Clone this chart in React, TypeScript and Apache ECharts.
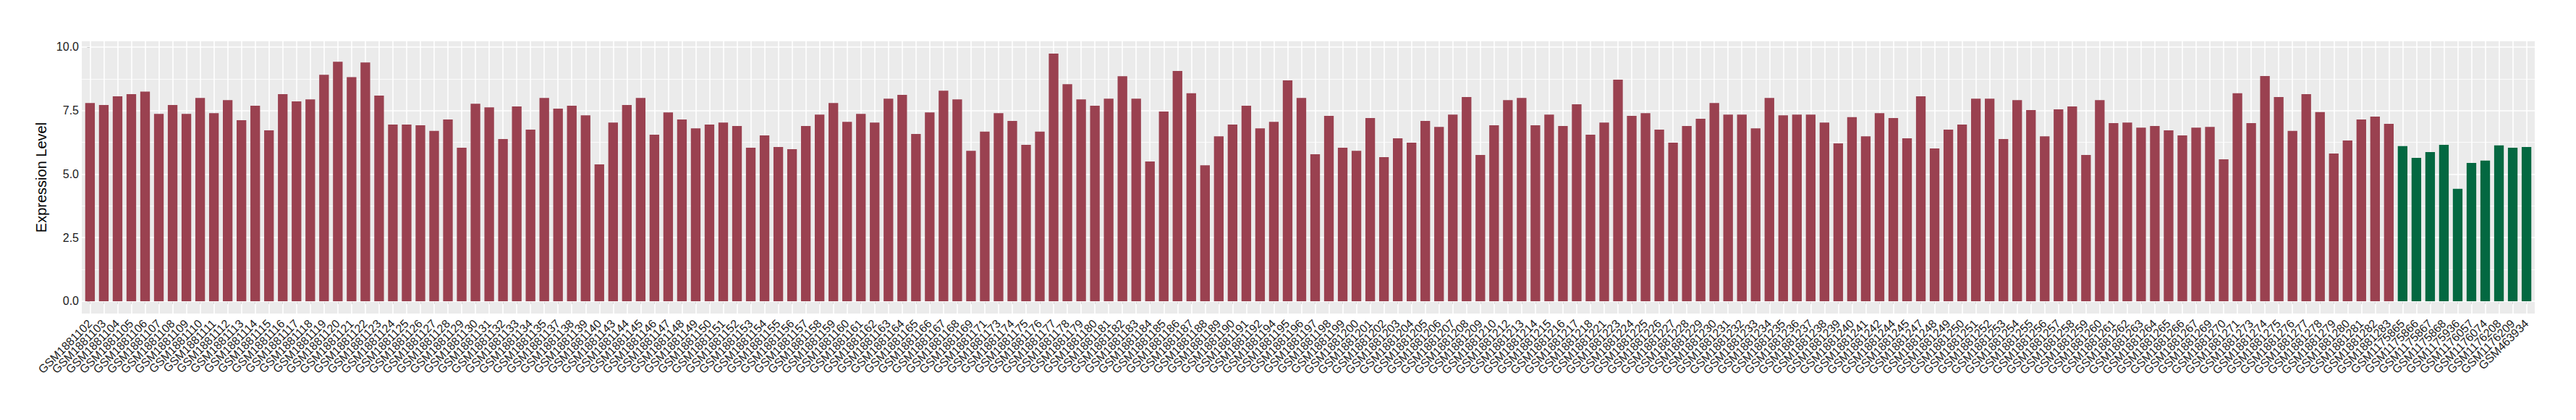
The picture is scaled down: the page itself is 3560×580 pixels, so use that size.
import React, { useEffect, useRef } from "react";
import * as echarts from "echarts";

const tumorSamples = [
  "GSM1881102", "GSM1881103", "GSM1881104", "GSM1881105", "GSM1881106", "GSM1881107", "GSM1881108", "GSM1881109", "GSM1881110", "GSM1881111",
  "GSM1881112", "GSM1881113", "GSM1881114", "GSM1881115", "GSM1881116", "GSM1881117", "GSM1881118", "GSM1881119", "GSM1881120", "GSM1881121",
  "GSM1881122", "GSM1881123", "GSM1881124", "GSM1881125", "GSM1881126", "GSM1881127", "GSM1881128", "GSM1881129", "GSM1881130", "GSM1881131",
  "GSM1881132", "GSM1881133", "GSM1881134", "GSM1881135", "GSM1881137", "GSM1881138", "GSM1881139", "GSM1881140", "GSM1881143", "GSM1881144",
  "GSM1881145", "GSM1881146", "GSM1881147", "GSM1881148", "GSM1881149", "GSM1881150", "GSM1881151", "GSM1881152", "GSM1881153", "GSM1881154",
  "GSM1881155", "GSM1881156", "GSM1881157", "GSM1881158", "GSM1881159", "GSM1881160", "GSM1881161", "GSM1881162", "GSM1881163", "GSM1881164",
  "GSM1881165", "GSM1881166", "GSM1881167", "GSM1881168", "GSM1881169", "GSM1881171", "GSM1881173", "GSM1881174", "GSM1881175", "GSM1881176",
  "GSM1881177", "GSM1881178", "GSM1881179", "GSM1881180", "GSM1881181", "GSM1881182", "GSM1881183", "GSM1881184", "GSM1881185", "GSM1881186",
  "GSM1881187", "GSM1881188", "GSM1881189", "GSM1881190", "GSM1881191", "GSM1881192", "GSM1881194", "GSM1881195", "GSM1881196", "GSM1881197",
  "GSM1881198", "GSM1881199", "GSM1881200", "GSM1881201", "GSM1881202", "GSM1881203", "GSM1881204", "GSM1881205", "GSM1881206", "GSM1881207",
  "GSM1881208", "GSM1881209", "GSM1881210", "GSM1881212", "GSM1881213", "GSM1881214", "GSM1881215", "GSM1881216", "GSM1881217", "GSM1881218",
  "GSM1881221", "GSM1881223", "GSM1881224", "GSM1881225", "GSM1881226", "GSM1881227", "GSM1881228", "GSM1881229", "GSM1881230", "GSM1881231",
  "GSM1881232", "GSM1881233", "GSM1881234", "GSM1881235", "GSM1881236", "GSM1881237", "GSM1881238", "GSM1881239", "GSM1881240", "GSM1881241",
  "GSM1881242", "GSM1881244", "GSM1881245", "GSM1881247", "GSM1881248", "GSM1881249", "GSM1881250", "GSM1881251", "GSM1881252", "GSM1881253",
  "GSM1881254", "GSM1881255", "GSM1881256", "GSM1881257", "GSM1881258", "GSM1881259", "GSM1881260", "GSM1881261", "GSM1881262", "GSM1881263",
  "GSM1881264", "GSM1881265", "GSM1881266", "GSM1881267", "GSM1881269", "GSM1881270", "GSM1881271", "GSM1881273", "GSM1881274", "GSM1881275",
  "GSM1881276", "GSM1881277", "GSM1881278", "GSM1881279", "GSM1881280", "GSM1881281", "GSM1881282", "GSM1881283",
];

const tumorValues = [
  7.80, 7.72, 8.06, 8.15, 8.25, 7.37, 7.72, 7.37, 8.00, 7.40,
  7.91, 7.12, 7.69, 6.72, 8.15, 7.86, 7.94, 8.91, 9.42, 8.82,
  9.39, 8.09, 6.95, 6.95, 6.92, 6.70, 7.15, 6.04, 7.77, 7.63,
  6.38, 7.66, 6.75, 8.00, 7.58, 7.69, 7.31, 5.38, 7.03, 7.72,
  8.00, 6.55, 7.43, 7.15, 6.80, 6.95, 7.03, 6.89, 6.04, 6.52,
  6.07, 5.98, 6.89, 7.34, 7.80, 7.06, 7.37, 7.03, 7.97, 8.12,
  6.58, 7.43, 8.28, 7.94, 5.92, 6.67, 7.40, 7.09, 6.15, 6.67,
  9.74, 8.54, 7.94, 7.69, 7.97, 8.85, 7.97, 5.50, 7.46, 9.06,
  8.18, 5.35, 6.49, 6.95, 7.69, 6.80, 7.06, 8.69, 8.00, 5.78,
  7.29, 6.04, 5.92, 7.21, 5.67, 6.41, 6.24, 7.09, 6.86, 7.34,
  8.03, 5.75, 6.92, 7.91, 8.00, 6.92, 7.34, 6.89, 7.75, 6.55,
  7.03, 8.72, 7.29, 7.40, 6.75, 6.24, 6.89, 7.18, 7.80, 7.34,
  7.34, 6.80, 8.00, 7.31, 7.34, 7.34, 7.03, 6.21, 7.24, 6.49,
  7.40, 7.21, 6.41, 8.06, 6.01, 6.75, 6.95, 7.97, 7.97, 6.38,
  7.91, 7.52, 6.49, 7.55, 7.66, 5.75, 7.91, 7.01, 7.03, 6.83,
  6.89, 6.72, 6.52, 6.83, 6.86, 5.58, 8.18, 7.01, 8.86, 8.03,
  6.70, 8.15, 7.44, 5.81, 6.32, 7.15, 7.26, 6.98,
];

const normalSamples = [
  "GSM1175865", "GSM1175866", "GSM1175867", "GSM1175868", "GSM1175936",
  "GSM1176057", "GSM1176074", "GSM1176208", "GSM1176209", "GSM463934",
];

const normalValues = [6.10, 5.64, 5.87, 6.15, 4.42, 5.44, 5.53, 6.13, 6.04, 6.07];

const yTicks = [0, 2.5, 5, 7.5, 10];
const yMinorTicks = [1.25, 3.75, 6.25, 8.75];

const TUMOR_COLOR = "#9A4150";
const NORMAL_COLOR = "#036841";
const FONT = "Liberation Sans, Arial, sans-serif";

export default function App() {
  const ref = useRef<HTMLDivElement>(null);

  useEffect(() => {
    const el = ref.current;
    if (!el) return;
    const chart = echarts.init(el, null, { renderer: "svg" });

    const categories = [...tumorSamples, ...normalSamples];
    const values = [...tumorValues, ...normalValues];
    const n = categories.length;
    const idx = categories.map((_, i) => i);
    // empty guard labels at both ends so the real first/last labels are never auto-hidden
    const labelValues = [-0.5, ...idx, n - 1 + 0.5];
    const maxV = Math.max(...values);
    const pad = 0.05 * maxV;

    const gridLeft = 113;
    const gridRight = 57;
    const gridTop = 57;
    const gridBottom = 147;
    const plotW = 3560 - gridLeft - gridRight;
    const step = plotW / (n - 1 + 1.2);
    const barW = 0.7 * step;

    const barData = values.map((v, i) => ({
      value: [i, v],
      itemStyle: { color: i < tumorSamples.length ? TUMOR_COLOR : NORMAL_COLOR },
    }));

    const gridLines: any[] = [
      ...yMinorTicks.map((v) => ({ yAxis: v, lineStyle: { color: "#ffffff", width: 0.8, type: "solid" } })),
      ...yTicks.map((v) => ({ yAxis: v, lineStyle: { color: "#ffffff", width: 1.6, type: "solid" } })),
      ...idx.map((i) => ({ xAxis: i, lineStyle: { color: "#ffffff", width: 1.6, type: "solid" } })),
    ];

    chart.setOption({
      animation: false,
      backgroundColor: "#ffffff",
      grid: {
        left: gridLeft,
        right: gridRight,
        top: gridTop,
        bottom: gridBottom,
        show: true,
        backgroundColor: "#EBEBEB",
        borderWidth: 0,
        containLabel: false,
        z: 0,
      },
      xAxis: {
        type: "value",
        min: -0.6,
        max: n - 1 + 0.6,
        axisLine: { show: false },
        splitLine: { show: false },
        axisTick: {
          show: true,
          customValues: idx,
          length: 4,
          lineStyle: { color: "#333333", width: 1 },
        },
        axisLabel: {
          customValues: labelValues,
          formatter: (v: number) => (Number.isInteger(v) ? categories[v] ?? "" : ""),
          rotate: 45,
          fontSize: 16,
          fontFamily: FONT,
          color: "#1A1A1A",
          margin: 11,
          hideOverlap: false,
        },
      },
      yAxis: {
        type: "value",
        min: -pad,
        max: maxV + pad,
        axisLine: { show: false },
        splitLine: { show: false },
        axisTick: {
          show: true,
          customValues: yTicks,
          length: 4,
          lineStyle: { color: "#333333", width: 1 },
        },
        axisLabel: {
          customValues: yTicks,
          formatter: (v: number) => v.toFixed(1),
          fontSize: 16,
          fontFamily: FONT,
          color: "#1A1A1A",
          margin: 4,
          showMinLabel: true,
          showMaxLabel: true,
        },
        name: "Expression Level",
        nameLocation: "middle",
        nameGap: 32,
        nameTextStyle: { fontSize: 20, fontFamily: FONT, color: "#000000" },
      },
      series: [
        {
          type: "line",
          z: 1,
          data: [[-10, -10]],
          showSymbol: false,
          silent: true,
          lineStyle: { width: 0 },
          markLine: {
            z: 1,
            silent: true,
            symbol: ["none", "none"],
            label: { show: false },
            animation: false,
            data: gridLines,
          },
        },
        {
          type: "bar",
          z: 3,
          barWidth: barW,
          data: barData,
        },
      ],
    });

    return () => chart.dispose();
  }, []);

  return (
    <div
      ref={ref}
      style={{ position: "fixed", left: 0, top: 0, width: 3560, height: 580, background: "#fff" }}
    />
  );
}
